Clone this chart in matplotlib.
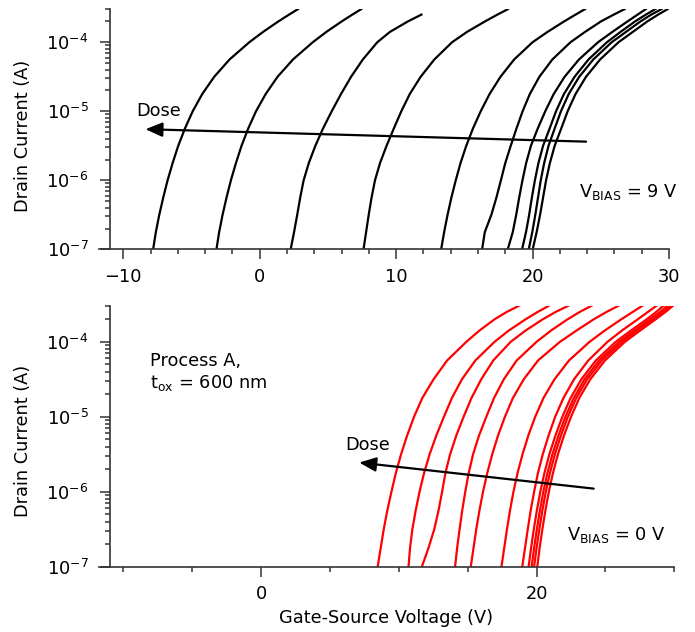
import numpy as np
import matplotlib
matplotlib.use("Agg")
import matplotlib.pyplot as plt
from matplotlib.ticker import MultipleLocator, LogLocator, NullFormatter, FixedLocator

# drain-current levels (log10 A) at which the gate voltage of every sweep is listed
log_id_levels = [-7.0, -6.75, -6.5, -6.25, -6.0, -5.75, -5.5, -5.25, -5.0,
                 -4.75, -4.5, -4.25, -4.0, -3.85, -3.7, -3.6, -3.52]

# ---------------- gate voltage per sweep, V_BIAS = 9 V (black) ----------------
vgs_9v = [
    [-7.81, -7.61, -7.36, -7.07, -6.75, -6.38, -5.97, -5.48, -4.91, -4.21, -3.33, -2.21, -0.76, 0.25, 1.36, 2.15, 2.81],
    [-3.17, -2.97, -2.72, -2.43, -2.11, -1.74, -1.33, -0.84, -0.27, 0.44, 1.31, 2.44, 3.89, 4.89, 6.00, 6.79, 7.45],
    [2.27, 2.52, 2.75, 2.97, 3.22, 3.60, 4.08, 4.64, 5.28, 5.96, 6.70, 7.56, 8.62, 9.55, 10.85, 11.85],
    [7.61, 7.80, 7.99, 8.20, 8.45, 8.82, 9.30, 9.83, 10.38, 11.00, 11.80, 12.80, 14.10, 15.20, 16.50, 17.42, 18.20],
    [13.30, 13.52, 13.77, 14.05, 14.37, 14.72, 15.14, 15.63, 16.20, 16.85, 17.65, 18.65, 20.00, 21.10, 22.30, 23.15, 23.85],
    [16.30, 16.50, 16.98, 17.35, 17.68, 18.00, 18.40, 18.82, 19.27, 19.80, 20.50, 21.45, 22.78, 23.85, 25.00, 25.95, 26.75],
    [18.18, 18.55, 18.80, 19.02, 19.26, 19.53, 19.88, 20.38, 20.93, 21.55, 22.35, 23.40, 24.80, 25.85, 26.95, 27.70, 28.30],
    [19.23, 19.52, 19.75, 19.95, 20.17, 20.43, 20.77, 21.25, 21.72, 22.30, 23.08, 24.10, 25.45, 26.45, 27.50, 28.30, 29.00],
    [19.72, 19.98, 20.20, 20.40, 20.60, 20.85, 21.17, 21.62, 22.08, 22.65, 23.42, 24.45, 25.80, 26.85, 27.90, 28.70, 29.45],
    [20.01, 20.30, 20.55, 20.77, 20.99, 21.27, 21.62, 22.10, 22.57, 23.15, 23.92, 24.95, 26.30, 27.35, 28.40, 29.20, 29.90],
]

# ---------------- gate voltage per sweep, V_BIAS = 0 V (red) ----------------
vgs_0v = [
    [8.46, 8.68, 8.90, 9.16, 9.46, 9.78, 10.16, 10.60, 11.10, 11.70, 12.52, 13.50, 14.90, 15.85, 16.95, 17.85, 18.72],
    [10.70, 10.81, 10.98, 11.22, 11.50, 11.83, 12.23, 12.72, 13.27, 13.85, 14.58, 15.55, 16.95, 17.98, 19.20, 20.10, 20.89],
    [11.67, 12.15, 12.57, 12.88, 13.14, 13.38, 13.72, 14.17, 14.70, 15.27, 15.98, 16.85, 18.12, 19.20, 20.45, 21.40, 22.30],
    [14.08, 14.23, 14.41, 14.60, 14.82, 15.07, 15.39, 15.82, 16.35, 16.91, 17.62, 18.55, 20.00, 21.05, 22.25, 23.15, 23.99],
    [15.22, 15.42, 15.62, 15.85, 16.11, 16.42, 16.78, 17.20, 17.70, 18.28, 19.07, 20.10, 21.70, 22.90, 24.15, 25.10, 25.94],
    [17.45, 17.65, 17.85, 18.07, 18.32, 18.62, 18.98, 19.40, 19.90, 20.50, 21.30, 22.35, 23.85, 24.95, 26.15, 27.00, 27.68],
    [18.96, 19.16, 19.36, 19.57, 19.82, 20.10, 20.45, 20.87, 21.35, 21.95, 22.72, 23.75, 25.15, 26.20, 27.35, 28.10, 28.70],
    [19.42, 19.60, 19.80, 20.02, 20.27, 20.57, 20.93, 21.37, 21.87, 22.47, 23.25, 24.30, 25.75, 26.85, 28.00, 28.70, 29.20],
    [19.64, 19.82, 20.02, 20.24, 20.49, 20.79, 21.15, 21.59, 22.09, 22.70, 23.48, 24.53, 26.00, 27.10, 28.25, 28.98, 29.50],
    [19.82, 20.00, 20.20, 20.42, 20.67, 20.97, 21.33, 21.77, 22.27, 22.88, 23.67, 24.73, 26.20, 27.30, 28.45, 29.18, 29.70],
    [20.05, 20.22, 20.42, 20.64, 20.89, 21.19, 21.55, 21.99, 22.50, 23.10, 23.90, 24.96, 26.42, 27.52, 28.65, 29.38, 29.90],
]

# dose arrows: (tail V, tail I) -> (head V, head I)
arrow_9v = ((23.92, 3.63e-6), (-8.37, 5.5e-6))
arrow_0v = ((24.15, 1.1e-6), (7.12, 2.45e-6))

XLIM = (-11.8, 30)
YLIM = (1e-7, 3e-4)
FS = 12.8
SPINE = "#333333"

fig = plt.figure(figsize=(6.95, 6.32), dpi=100)
ax_top = fig.add_axes([0.142, 0.6055, 0.8206, 0.3798])
ax_bot = fig.add_axes([0.142, 0.1033, 0.8282, 0.4125])


def style_axes(ax):
    ax.set_yscale("log")
    ax.set_xlim(*XLIM)
    ax.set_ylim(*YLIM)
    for s in ("top", "right"):
        ax.spines[s].set_visible(False)
    for s in ("left", "bottom"):
        ax.spines[s].set_color(SPINE)
        ax.spines[s].set_linewidth(1.2)
    ax.spines["left"].set_position(("data", -11))
    ax.yaxis.set_major_locator(LogLocator(base=10, numticks=10))
    ax.yaxis.set_minor_locator(LogLocator(base=10, subs=np.arange(2, 10), numticks=20))
    ax.yaxis.set_minor_formatter(NullFormatter())
    ax.tick_params(which="major", direction="out", length=7.2, width=1.1,
                   color=SPINE, labelsize=FS, pad=6)
    ax.tick_params(axis="y", which="major", pad=8)
    ax.tick_params(which="minor", direction="out", length=3.8, width=1.1, color=SPINE)
    ax.set_ylabel("Drain Current (A)", fontsize=FS)


def draw_sweeps(ax, sweeps, color):
    for v in sweeps:
        current = np.power(10.0, log_id_levels[:len(v)])
        ax.plot(v, current, color=color, lw=1.6, solid_joinstyle="round")


style_axes(ax_top)
style_axes(ax_bot)

ax_top.xaxis.set_major_locator(MultipleLocator(10))
ax_top.xaxis.set_minor_locator(MultipleLocator(2))
ax_bot.xaxis.set_major_locator(FixedLocator([0, 20]))
ax_bot.xaxis.set_minor_locator(MultipleLocator(5))

draw_sweeps(ax_top, vgs_9v, "black")
draw_sweeps(ax_bot, vgs_0v, "red")

arrow_props = dict(arrowstyle="-|>,head_length=0.75,head_width=0.32", color="black",
                   lw=1.6, shrinkA=0, shrinkB=0, mutation_scale=13.5)
ax_top.annotate("", xy=arrow_9v[1], xytext=arrow_9v[0], arrowprops=arrow_props)
ax_bot.annotate("", xy=arrow_0v[1], xytext=arrow_0v[0], arrowprops=arrow_props)

ax_top.text(-7.4, 1.0e-5, "Dose", fontsize=FS, ha="center", va="center")
ax_top.text(23.4, 6.8e-7, r"V$_\mathregular{BIAS}$ = 9 V", fontsize=FS, ha="left", va="center")

ax_bot.text(7.7, 4.2e-6, "Dose", fontsize=FS, ha="center", va="center")
ax_bot.text(22.2, 2.66e-7, r"V$_\mathregular{BIAS}$ = 0 V", fontsize=FS, ha="left", va="center")
ax_bot.text(-8.1, 7.4e-5, "Process A,\n" + r"t$_\mathregular{ox}$ = 600 nm", fontsize=FS,
            ha="left", va="top", linespacing=1.25)

ax_bot.set_xlabel("Gate-Source Voltage (V)", fontsize=FS)

ax_top.yaxis.set_label_coords(-0.117, 0.472)
ax_bot.yaxis.set_label_coords(-0.116, 0.484)

fig.savefig("out.png", dpi=100)
